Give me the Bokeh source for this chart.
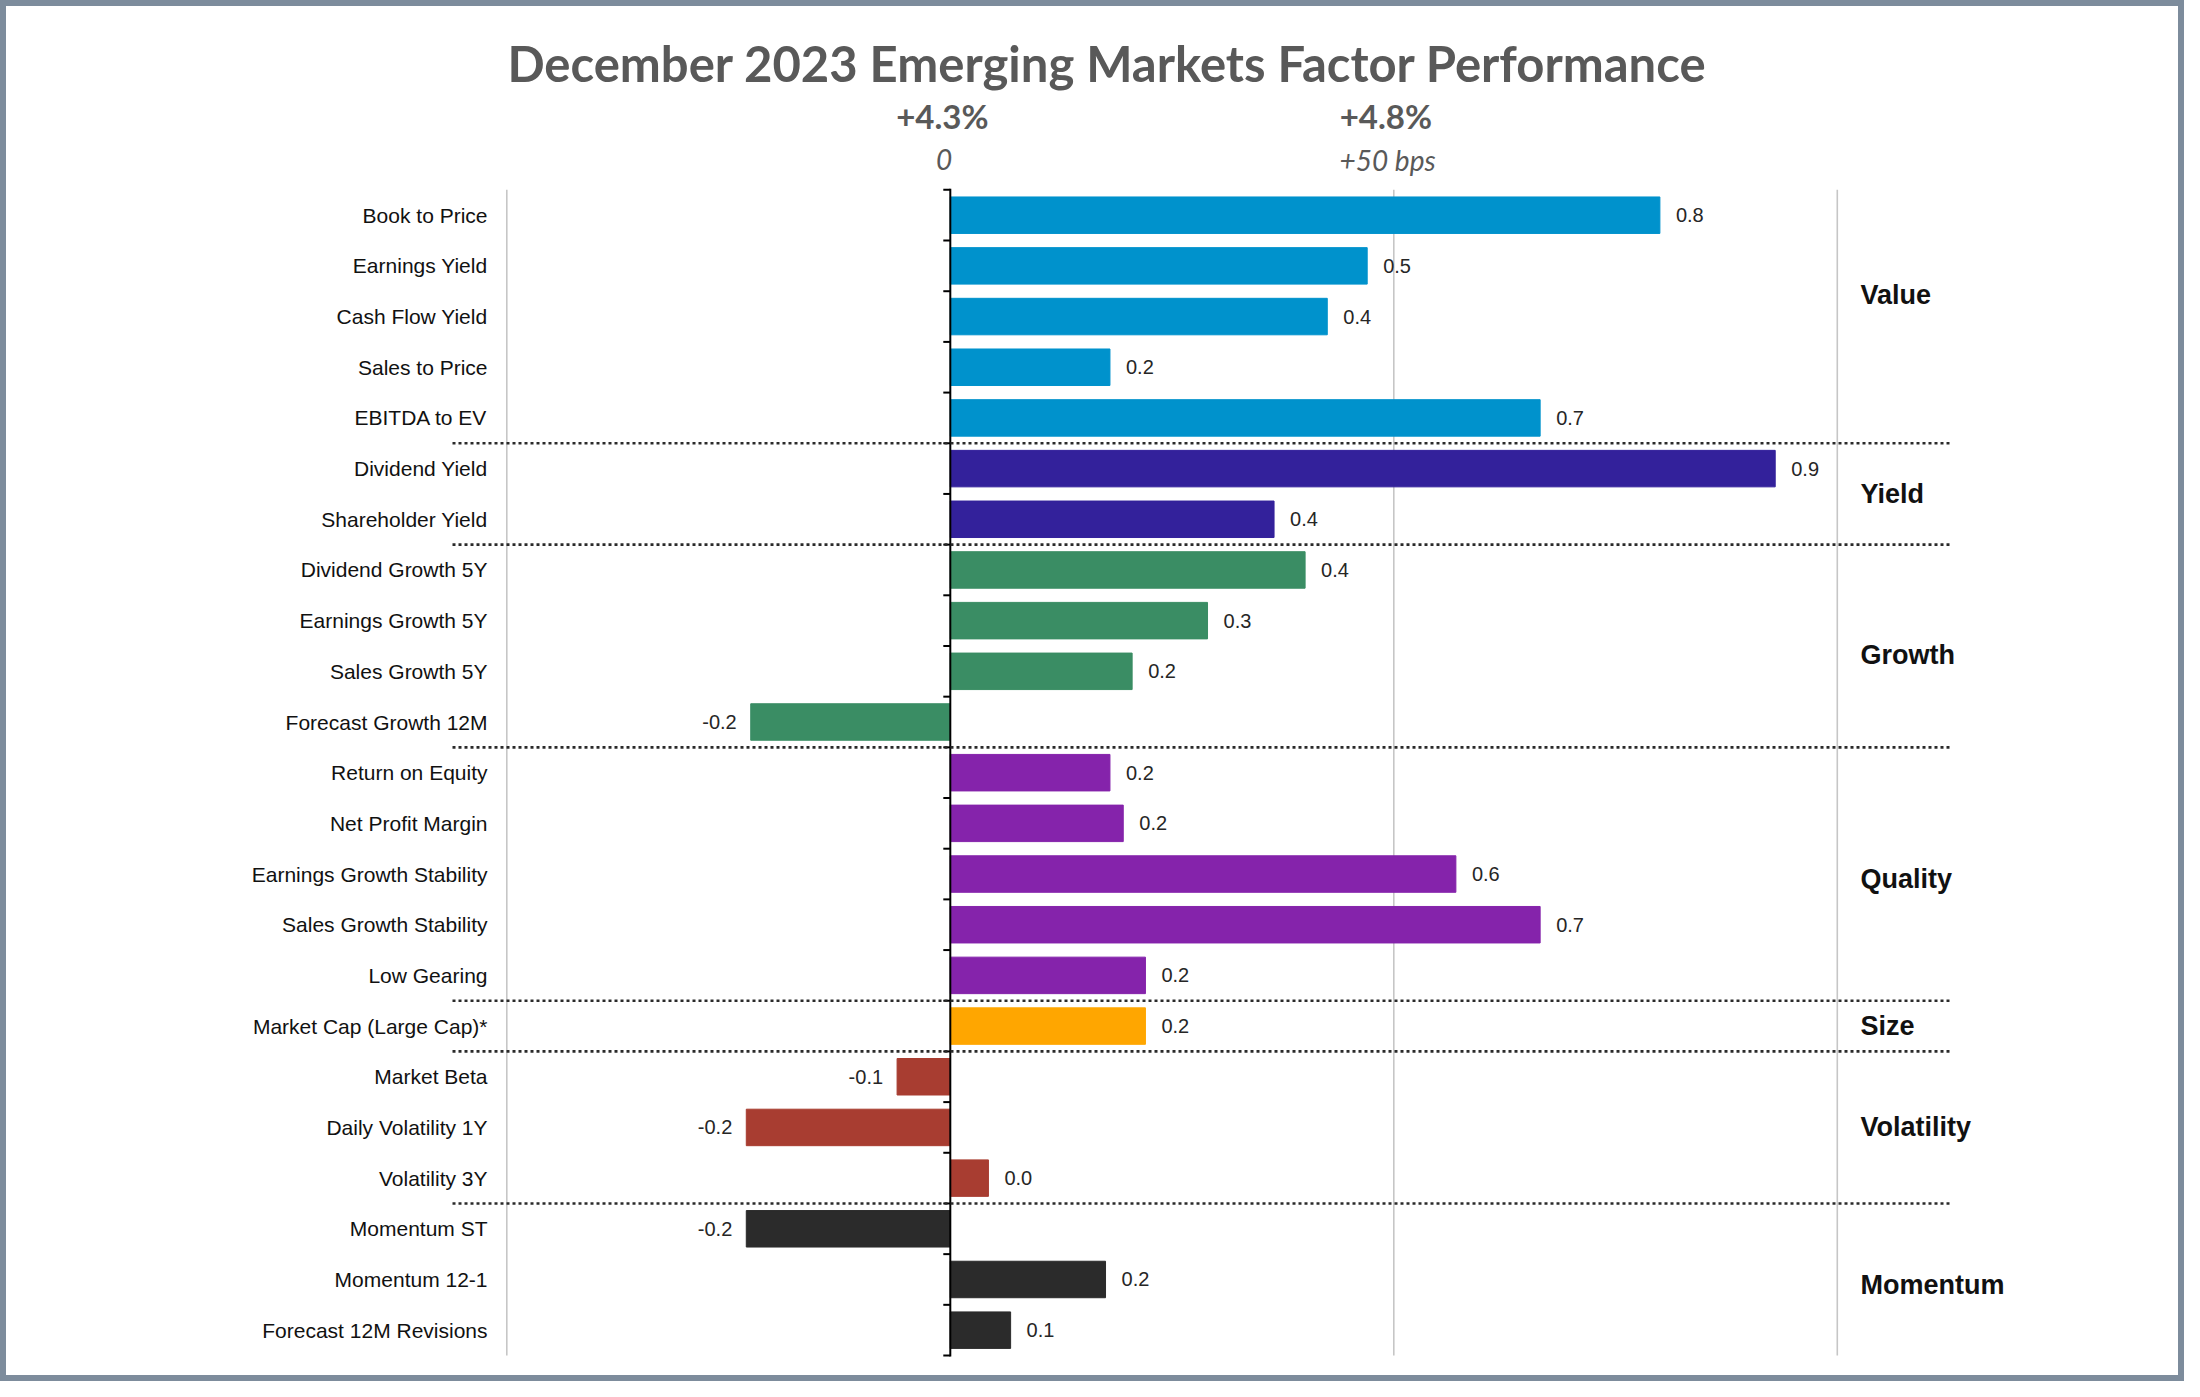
from bokeh.plotting import figure
from bokeh.models import ColumnDataSource, Range1d, Label
from bokeh.core.properties import value
from bokeh.embed import file_html
from bokeh.resources import INLINE
import math

# ---------------- data ----------------
categories = [
    "Book to Price", "Earnings Yield", "Cash Flow Yield", "Sales to Price", "EBITDA to EV",
    "Dividend Yield", "Shareholder Yield",
    "Dividend Growth 5Y", "Earnings Growth 5Y", "Sales Growth 5Y", "Forecast Growth 12M",
    "Return on Equity", "Net Profit Margin", "Earnings Growth Stability", "Sales Growth Stability", "Low Gearing",
    "Market Cap (Large Cap)*",
    "Market Beta", "Daily Volatility 1Y", "Volatility 3Y",
    "Momentum ST", "Momentum 12-1", "Forecast 12M Revisions",
]
groups = (["Value"] * 5 + ["Yield"] * 2 + ["Growth"] * 4 + ["Quality"] * 5
          + ["Size"] * 1 + ["Volatility"] * 3 + ["Momentum"] * 3)
values = [0.80, 0.47, 0.425, 0.18, 0.665,
          0.93, 0.365,
          0.40, 0.29, 0.205, -0.225,
          0.18, 0.195, 0.57, 0.665, 0.22,
          0.22,
          -0.06, -0.23, 0.043,
          -0.23, 0.175, 0.068]
group_names = ["Value", "Yield", "Growth", "Quality", "Size", "Volatility", "Momentum"]
title_text = "December 2023 Emerging Markets Factor Performance"
top_labels = ["+4.3%", "+4.8%"]
top_sub_labels = ["0", "+50 bps"]
top_label_x = [0.0, 0.5]
grid_x = [-0.5, 0.5, 1.0]

# ---------------- styles / layout ----------------
group_colors = {
    "Value": "#0092cc", "Yield": "#33219b", "Growth": "#3a8d64", "Quality": "#8523ab",
    "Size": "#ffa600", "Volatility": "#a83d31", "Momentum": "#2b2b2b",
}
group_label_rows = {"Value": 1.58, "Yield": 5.5, "Growth": 8.67, "Quality": 13.1,
                    "Size": 16.0, "Volatility": 18.0, "Momentum": 21.1}

W, H = 2184, 1381           # figure size
X0, PXU = 949.8, 887.0      # page x of zero, pixels per unit
Y0, ROWH = 214.7, 50.68     # page y of first row centre, row pitch


def xd(px):
    return (px - X0) / PXU


def yd(py):
    return (py - Y0) / ROWH


p = figure(width=W, height=H, output_backend="svg", toolbar_location=None,
           x_range=Range1d(xd(0), xd(W)), y_range=Range1d(yd(H), yd(0)),
           x_axis_location=None, y_axis_location=None, min_border=0, title=None)
p.grid.visible = False
p.background_fill_color = "white"
p.border_fill_color = "white"
p.outline_line_color = "#7d8c9c"
p.outline_line_width = 11

n = len(categories)
rows = list(range(n))
top_b, bot_b = -0.5, n - 0.5

# vertical gridlines
p.segment(x0=grid_x, x1=grid_x, y0=[top_b] * len(grid_x), y1=[bot_b] * len(grid_x),
          line_color="#c6c6c6", line_width=1.6)

# bars
src = ColumnDataSource(dict(
    y=rows, v=values, c=[group_colors[g] for g in groups],
    lab=["{:.1f}".format(v) for v in values],
    cat=categories,
))
p.hbar(y="y", left=0, right="v", height=0.72, fill_color="c", line_color="c",
       line_width=1, source=src)

# zero axis with ticks
p.segment(x0=[0], x1=[0], y0=[top_b - 0.02], y1=[bot_b + 0.02], line_color="black", line_width=2)
bounds = [r - 0.5 for r in range(n + 1)]
p.ray(x=[0] * len(bounds), y=bounds, length=7, length_units="screen", angle=math.pi,
      line_color="black", line_width=2)

# dotted group separators
seps = [i + 0.5 for i in range(n - 1) if groups[i] != groups[i + 1]]
p.segment(x0=[xd(452)] * len(seps), x1=[xd(1950)] * len(seps), y0=seps, y1=seps,
          line_color="#2a2a2a", line_width=2.6, line_dash="3 3")

# value labels
pos = ColumnDataSource(dict(
    y=[r for r, v in zip(rows, values) if v >= 0],
    v=[v for v in values if v >= 0],
    lab=["{:.1f}".format(v) for v in values if v >= 0]))
neg = ColumnDataSource(dict(
    y=[r for r, v in zip(rows, values) if v < 0],
    v=[v for v in values if v < 0],
    lab=["{:.1f}".format(v) for v in values if v < 0]))
p.text(x="v", y="y", text="lab", source=pos, x_offset=16, text_align="left",
       text_baseline="middle", text_font=value("Liberation Sans"), text_font_size="20px",
       text_color="#262626")
p.text(x="v", y="y", text="lab", source=neg, x_offset=-14, text_align="right",
       text_baseline="middle", text_font=value("Liberation Sans"), text_font_size="20px",
       text_color="#262626")

# category labels
p.text(x=xd(487), y="y", text="cat", source=src, text_align="right", text_baseline="middle",
       text_font=value("Liberation Sans"), text_font_size="21px", text_color="#111111")

# group labels
p.text(x=[xd(1860)] * len(group_names), y=[group_label_rows[g] for g in group_names],
       text=group_names, text_align="left", text_baseline="middle",
       text_font=value("Liberation Sans"), text_font_style="bold", text_font_size="27px",
       text_color="#111111")

# title and top labels
p.add_layout(Label(x=xd(1107), y=yd(62), text=title_text, text_align="center",
                   text_baseline="middle", text_font="Lato", text_font_style="bold",
                   text_font_size="49px", text_color="#595959"))
for tx, t1, t2 in zip(top_label_x, top_labels, top_sub_labels):
    p.add_layout(Label(x=tx - 0.009, y=yd(115), text=t1, text_align="center",
                       text_baseline="middle", text_font="Lato", text_font_style="bold",
                       text_font_size="33px", text_color="#595959"))
    p.add_layout(Label(x=tx - 0.007, y=yd(159), text=t2, text_align="center",
                       text_baseline="middle", text_font="Lato", text_font_style="italic",
                       text_font_size="28px", text_color="#595959"))

open("out.html", "w").write(file_html(p, INLINE))
